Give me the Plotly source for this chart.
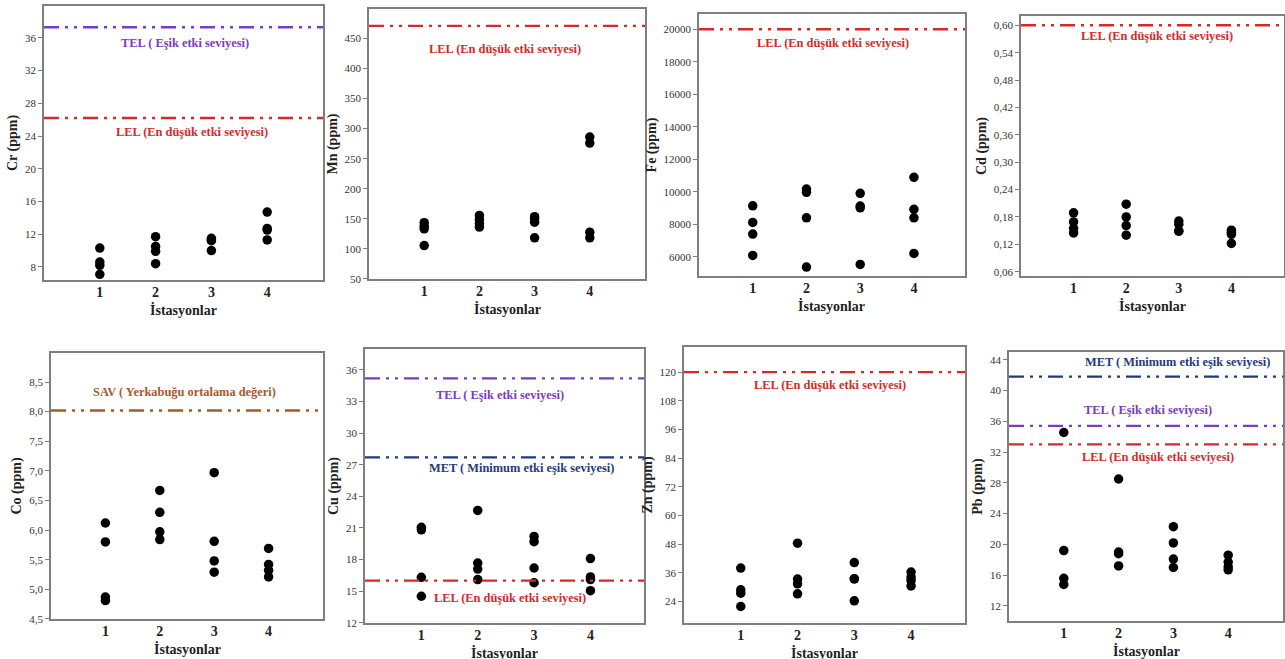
import plotly.graph_objects as go

# ---------------- data ----------------
stations = [1, 2, 3, 4]
station_labels = ["1", "2", "3", "4"]

cr = [[10.3, 8.6, 8.2, 7.1], [11.7, 10.5, 9.9, 8.4], [11.5, 11.3, 11.2, 10.0], [14.7, 12.7, 12.5, 11.3]]
mn = [[143.5, 137.8, 133.4, 105.5], [155.7, 149.0, 142.3, 136.3], [153.5, 150.0, 144.5, 118.4], [286.0, 276.0, 127.8, 118.4]]
fe = [[9134, 8110, 7390, 6078], [10162, 9960, 8394, 5358], [9898, 9115, 9010, 5524], [10883, 8912, 8394, 6202]]
cd = [[0.189, 0.169, 0.155, 0.145], [0.208, 0.180, 0.161, 0.140], [0.171, 0.164, 0.149, 0.149], [0.151, 0.146, 0.142, 0.122]]
co = [[6.12, 5.80, 4.87, 4.81], [6.67, 6.30, 5.97, 5.84], [6.97, 5.81, 5.48, 5.29], [5.69, 5.42, 5.32, 5.21]]
cu = [[21.06, 20.83, 16.32, 14.52], [22.67, 17.67, 17.10, 16.10], [20.20, 19.70, 17.20, 15.80], [18.10, 16.35, 16.10, 15.05]]
zn = [[38.0, 28.9, 27.5, 21.9], [48.4, 33.4, 31.4, 27.2], [40.3, 33.5, 33.5, 24.3], [36.3, 34.2, 32.8, 30.5]]
pb = [[34.54, 19.2, 15.6, 14.8], [28.5, 19.0, 18.8, 17.2], [22.3, 20.2, 18.1, 17.0], [18.6, 17.7, 17.1, 16.7]]

cr_tel, cr_lel = 37.3, 26.2
mn_lel = 471
fe_lel = 20000
cd_lel = 0.60
co_sav = 8.02
cu_tel, cu_met, cu_lel = 35.2, 27.7, 16.0
zn_lel = 120
pb_met, pb_tel, pb_lel = 41.8, 35.4, 33.0

TEL_TXT = "TEL ( Eşik etki seviyesi)"
LEL_TXT = "LEL (En düşük etki seviyesi)"
MET_TXT = "MET ( Minimum etki eşik seviyesi)"
SAV_TXT = "SAV ( Yerkabuğu ortalama değeri)"
X_TITLE = "İstasyonlar"

# ---------------- styling ----------------
W, H = 1285, 659
SERIF = "Times New Roman, Liberation Serif, serif"
C_TEL = "#7a3cc0"
C_LEL = "#d42a2a"
C_MET = "#1f3a80"
C_SAV = "#a8582a"
FRAME = "#7f7f7f"
DASH = "15px,6px,3px,6px,3px,6px"

panels = [
    dict(name="Cr (ppm)", vals=cr, box=(44, 323, 6, 280), xr=[0, 5], yr=[6.4, 39.9], dtick=4, fmt="d",
         lines=[(cr_tel, C_TEL, TEL_TXT, 2.53, 35.4), (cr_lel, C_LEL, LEL_TXT, 2.65, 24.45)]),
    dict(name="Mn (ppm)", vals=mn, box=(369, 645, 9, 279), xr=[0, 5], yr=[49.9, 499], dtick=50, fmt="d",
         lines=[(mn_lel, C_LEL, LEL_TXT, 2.46, 433)]),
    dict(name="Fe (ppm)", vals=fe, box=(699, 965, 14, 276), xr=[0, 4.95], yr=[4810, 20940], dtick=2000, fmt="d",
         lines=[(fe_lel, C_LEL, LEL_TXT, 2.49, 19175)]),
    dict(name="Cd (ppm)", vals=cd, box=(1021, 1284, 16, 276), xr=[0, 5], yr=[0.0506, 0.6204], dtick=0.06, fmt=".2f",
         lines=[(cd_lel, C_LEL, LEL_TXT, 2.58, 0.576)]),
    dict(name="Co (ppm)", vals=co, box=(51, 323, 353, 619), xr=[0, 5], yr=[4.499, 8.99], dtick=0.5, fmt=".1f",
         lines=[(co_sav, C_SAV, SAV_TXT, 2.46, 8.33)]),
    dict(name="Cu (ppm)", vals=cu, box=(365, 644, 349, 623), xr=[0, 4.95], yr=[11.98, 37.99], dtick=3, fmt="d",
         lines=[(cu_tel, C_TEL, TEL_TXT, 2.40, 33.63), (cu_met, C_MET, MET_TXT, 2.78, 26.68),
                (cu_lel, C_LEL, LEL_TXT, 2.57, 14.36)]),
    dict(name="Zn (ppm)", vals=zn, box=(684, 965, 347, 623), xr=[0, 4.95], yr=[15, 130.5], dtick=12, fmt="d",
         lines=[(zn_lel, C_LEL, LEL_TXT, 2.57, 114.7)]),
    dict(name="Pb (ppm)", vals=pb, box=(1009, 1283, 352, 621), xr=[0, 5], yr=[10.05, 45], dtick=4, fmt="d",
         lines=[(pb_met, C_MET, MET_TXT, 3.08, 43.65), (pb_tel, C_TEL, TEL_TXT, 2.54, 37.5),
                (pb_lel, C_LEL, LEL_TXT, 2.72, 31.4)]),
]

fig = go.Figure()
shapes = []
annotations = []
layout_axes = {}

for i, p in enumerate(panels, start=1):
    sfx = "" if i == 1 else str(i)
    xs, ys = [], []
    for st, vals in zip(stations, p["vals"]):
        for v in vals:
            xs.append(st)
            ys.append(v)
    fig.add_trace(go.Scatter(x=xs, y=ys, mode="markers", xaxis="x" + sfx, yaxis="y" + sfx,
                             marker=dict(size=9.5, color="black"), showlegend=False,
                             hoverinfo="y"))
    x0, x1, yt, yb = p["box"]
    layout_axes["xaxis" + sfx] = dict(
        domain=[x0 / W, x1 / W], anchor="y" + sfx, range=p["xr"], automargin=False,
        tickmode="array", tickvals=stations, ticktext=["<b>" + s + "</b>" for s in station_labels],
        ticks="", ticklen=0, ticklabelstandoff=-2, showgrid=False, zeroline=False, showline=True,
        linecolor=FRAME, linewidth=1.5,
        mirror=True, tickfont=dict(family=SERIF, size=14, color="#222"),
        title=dict(text="", font=dict(family=SERIF, size=14, color="#222")),
    )
    layout_axes["yaxis" + sfx] = dict(
        domain=[1 - yb / H, 1 - yt / H], anchor="x" + sfx, range=p["yr"], automargin=False,
        tick0=0, dtick=p["dtick"], tickformat=p["fmt"], exponentformat="none",
        ticks="outside", ticklen=4, tickcolor=FRAME, showgrid=False, zeroline=False,
        showline=True, linecolor=FRAME, linewidth=1.5, mirror=True,
        tickfont=dict(family=SERIF, size=11, color="#333"),
        title=dict(text="<b>" + p["name"] + "</b>", font=dict(family=SERIF, size=14, color="#222"), standoff=4),
    )
    # x-axis title, placed just below the tick labels
    annotations.append(dict(x=0.5, y=0, xref="x" + sfx + " domain", yref="y" + sfx + " domain",
                            yanchor="top", yshift=-20, text="<b>" + X_TITLE + "</b>", showarrow=False,
                            font=dict(family=SERIF, size=14, color="#222")))
    for val, col, txt, ax_, ay_ in p["lines"]:
        shapes.append(dict(type="line", xref="x" + sfx + " domain", yref="y" + sfx,
                           x0=0, x1=1, y0=val, y1=val,
                           line=dict(color=col, width=2.4, dash=DASH)))
        annotations.append(dict(x=ax_, y=ay_, xref="x" + sfx, yref="y" + sfx, text="<b>" + txt + "</b>",
                                showarrow=False, font=dict(family=SERIF, size=12.4, color=col)))

fig.update_layout(
    width=W, height=H, autosize=False,
    margin=dict(l=0, r=0, t=0, b=0),
    paper_bgcolor="white", plot_bgcolor="white",
    separators=",.",
    font=dict(family=SERIF),
    shapes=shapes, annotations=annotations,
    **layout_axes,
)

fig.write_html("out.html", config={"displayModeBar": False},
               post_script="document.body.style.margin='0';")
